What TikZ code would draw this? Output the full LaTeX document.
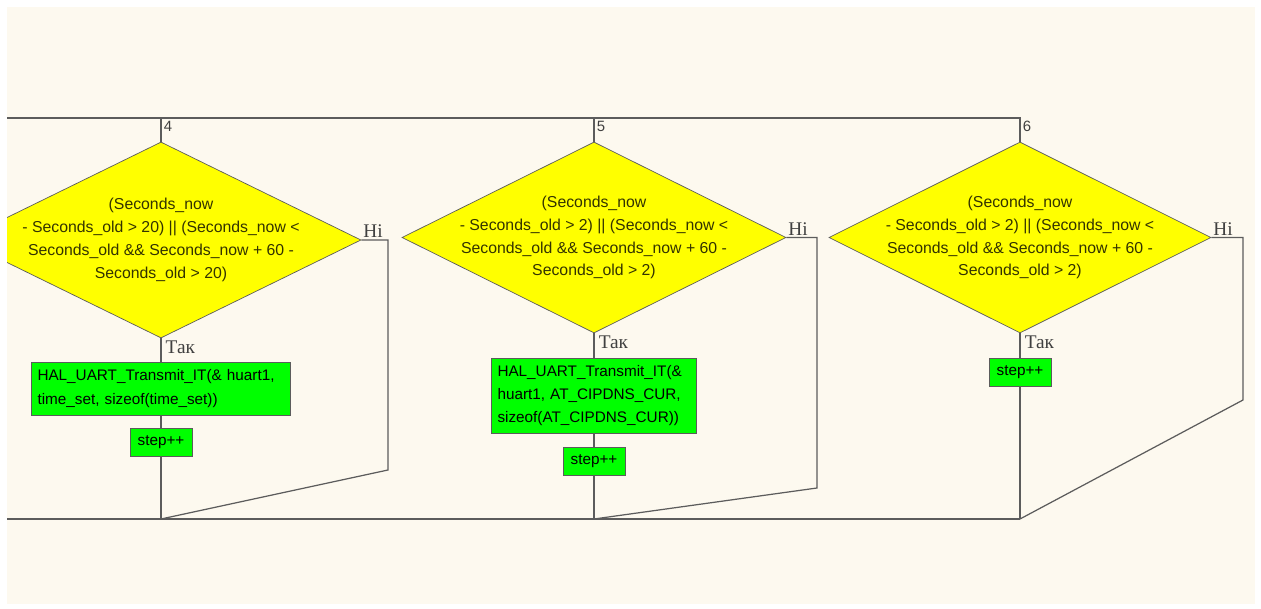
\documentclass[tikz,border=0pt]{standalone}
\usepackage{fontspec}
\setmainfont{Liberation Serif}
\setsansfont{Liberation Sans}
\usetikzlibrary{shapes.geometric}
\usetikzlibrary{calc}
\definecolor{creme}{HTML}{FDF9EF}
\definecolor{gelb}{HTML}{FFFF00}
\definecolor{hellgruen}{HTML}{00FF00}
\definecolor{linie}{HTML}{5C5C5C}
\definecolor{oliv}{HTML}{333300}

\begin{document}
\begin{tikzpicture}
     [
     bedingung/.style = {draw=linie, fill=gelb, shape=diamond, inner sep=0pt},
     bedtext/.style = {align=center, text=oliv, inner sep=0pt,
                       font=\sffamily\fontsize{9}{13}\selectfont},
     anweisung/.style = {draw=linie, fill=hellgruen, align=left, inner xsep=0.12cm,
                         font=\sffamily\fontsize{8.7}{13.2}\selectfont},
     schritt/.style = {anweisung, align=center, minimum width=1.24cm, minimum height=0.56cm, inner sep=0pt},
     nummer/.style = {text=black!75, inner sep=1.5pt, font=\sffamily\fontsize{8.5}{10}\selectfont},
     zweig/.style = {text=black!75, inner sep=1pt, font=\fontsize{11}{12}\selectfont},
     verbindung/.style = {draw=linie, line width=0.7pt}
     ]

     \useasboundingbox (0,0) rectangle (25.22,12.18);
     \fill[creme] (0.14,0.10) rectangle (25.10,12.04);
     \clip (0.14,0.10) rectangle (25.10,12.04);

     % Ecken der Linien oben und unten
     \coordinate (lo) at (0.14,9.82);
     \coordinate (lu) at (0.14,1.80);
     \coordinate (k4) at (3.22,9.82);
     \coordinate (k5) at (11.88,9.82);
     \coordinate (k6) at (20.40,9.82);
     \coordinate (u4) at (3.22,1.80);
     \coordinate (u5) at (11.88,1.80);
     \coordinate (u6) at (20.40,1.80);
     \coordinate (r4) at (7.76,2.78);
     \coordinate (r5) at (16.34,2.42);
     \coordinate (r6) at (24.86,4.18);

     \path (3.22,7.38) node[bedingung, minimum width=8cm, minimum height=3.92cm] (d4) {}
           (11.88,7.43) node[bedingung, minimum width=7.68cm, minimum height=3.82cm] (d5) {}
           (20.40,7.43) node[bedingung, minimum width=7.64cm, minimum height=3.82cm] (d6) {}
     ;
     \node[bedtext] (d4t) at (d4) {(Seconds\_now\\- Seconds\_old > 20) || (Seconds\_now <\\Seconds\_old \&\& Seconds\_now + 60 -\\Seconds\_old > 20)};
     \node[bedtext] (d5t) at (d5) {(Seconds\_now\\- Seconds\_old > 2) || (Seconds\_now <\\Seconds\_old \&\& Seconds\_now + 60 -\\Seconds\_old > 2)};
     \node[bedtext] (d6t) at (d6) {(Seconds\_now\\- Seconds\_old > 2) || (Seconds\_now <\\Seconds\_old \&\& Seconds\_now + 60 -\\Seconds\_old > 2)};

     \path (3.22,4.41) node[anweisung, text width=4.94cm, minimum height=1.06cm] (a4)
                {HAL\_UART\_Transmit\_IT(\&~huart1,\\time\_set, sizeof(time\_set))}
           (3.22,3.34) node[schritt] (s4) {step++}
           (11.88,4.27) node[anweisung, text width=3.86cm, minimum height=1.5cm] (a5)
                {HAL\_UART\_Transmit\_IT(\&\\huart1, AT\_CIPDNS\_CUR,\\sizeof(AT\_CIPDNS\_CUR))}
           (11.88,2.96) node[schritt] (s5) {step++}
           (20.40,4.73) node[schritt] (s6) {step++}
     ;

     \draw[verbindung] (lo) -- (k6) -- (d6.north);
     \draw[verbindung] (k4) -- (d4.north) (k5) -- (d5.north);
     \draw[verbindung] (lu) -- (u6);

     \draw[verbindung] (d4.south) -- (a4) -- (s4) -- (u4);
     \draw[verbindung] (d5.south) -- (a5) -- (s5) -- (u5);
     \draw[verbindung] (d6.south) -- (s6) -- (u6);

     \draw[verbindung] (d4.east) -- (d4.east -| r4) -- (r4) -- (u4);
     \draw[verbindung] (d5.east) -- (d5.east -| r5) -- (r5) -- (u5);
     \draw[verbindung] (d6.east) -- (d6.east -| r6) -- (r6) -- (u6);

     \node[nummer, anchor=north west] (n4) at (k4) {4};
     \node[nummer, anchor=north west] (n5) at (k5) {5};
     \node[nummer, anchor=north west] (n6) at (k6) {6};

     \node[zweig, anchor=north west] (ja4) at ([xshift=1.5pt]d4.south) {Так};
     \node[zweig, anchor=north west] (ja5) at ([xshift=1.5pt]d5.south) {Так};
     \node[zweig, anchor=north west] (ja6) at ([xshift=1.5pt]d6.south) {Так};
     \node[zweig, anchor=south west] (nein4) at (d4.east) {Ні};
     \node[zweig, anchor=south west] (nein5) at (d5.east) {Ні};
     \node[zweig, anchor=south west] (nein6) at (d6.east) {Ні};
  \end{tikzpicture}
\end{document}
